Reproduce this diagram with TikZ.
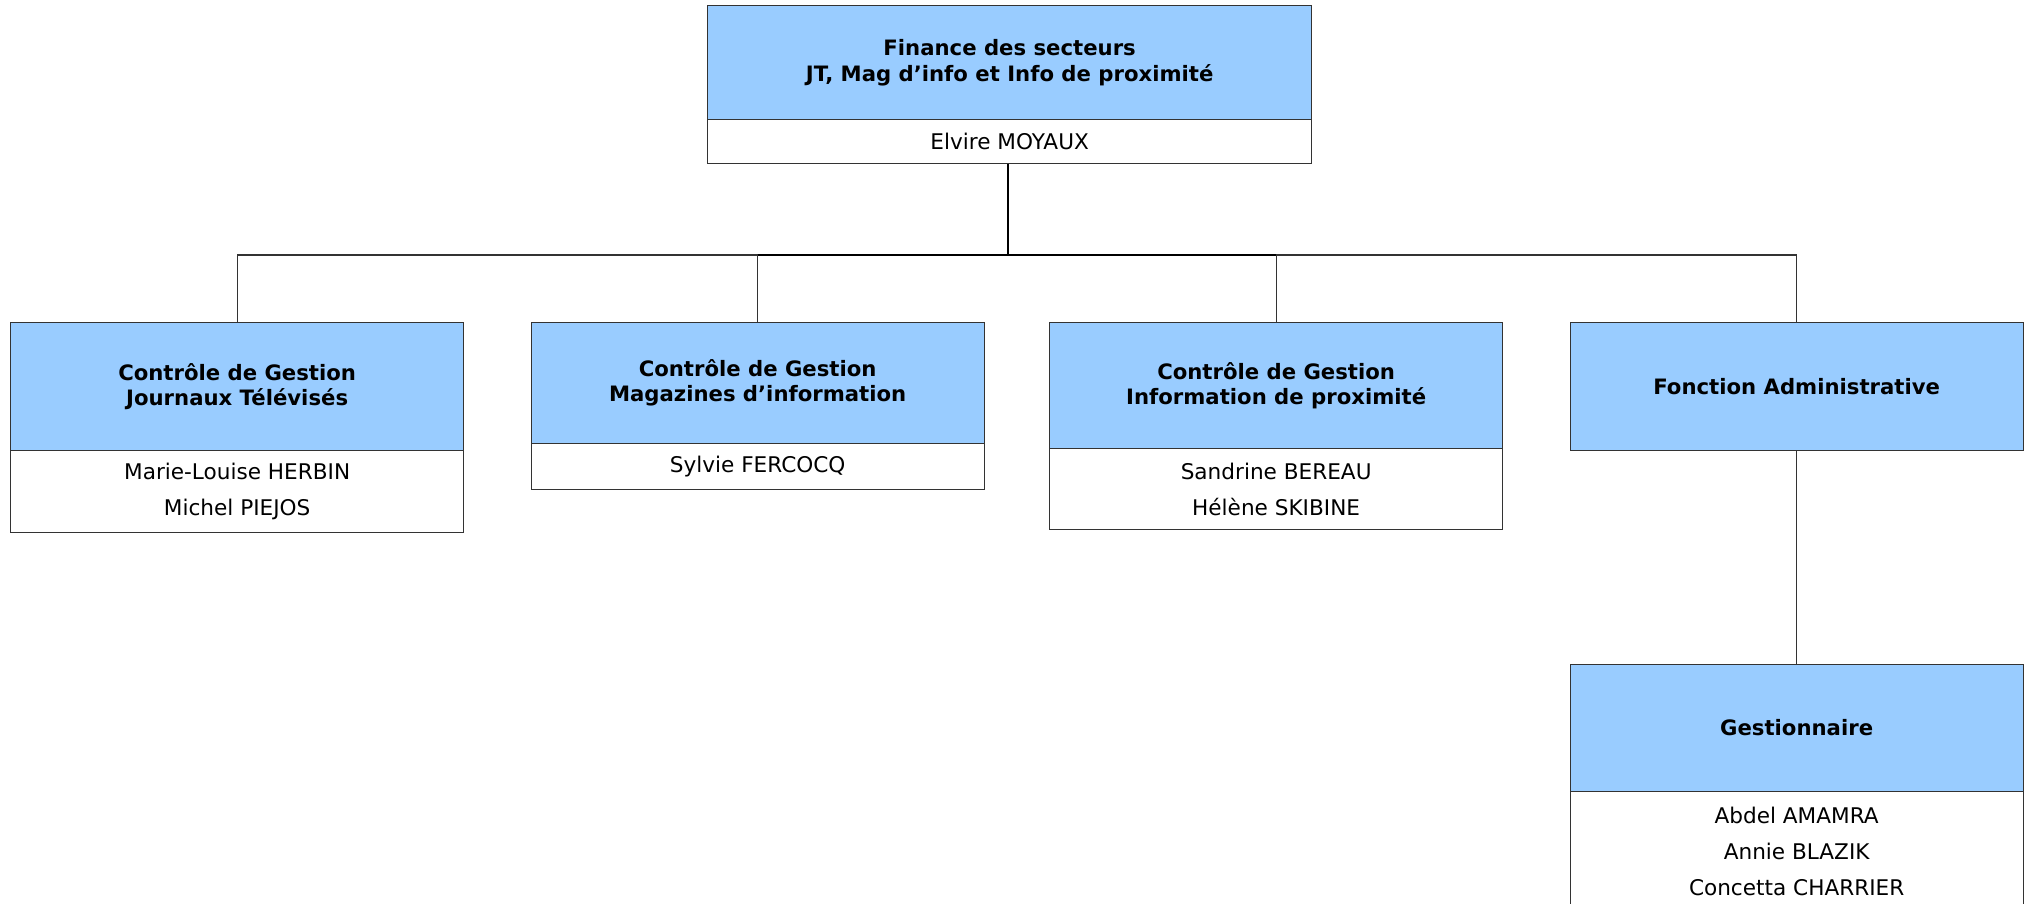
\documentclass[tikz,border=0pt]{standalone}
\usepackage{fontspec}
\setmainfont{DejaVu Sans}
\definecolor{hdr}{HTML}{99CCFF}
\definecolor{edge}{HTML}{333333}
\tikzset{
  hdrbox/.style={draw=edge, fill=hdr, line width=1.3pt, minimum width=453pt, inner sep=0pt, anchor=north west, align=center, font=\bfseries\fontsize{21.2}{25.5}\selectfont},
  namebox/.style={draw=edge, fill=white, line width=1.3pt, minimum width=453pt, inner sep=0pt, anchor=north west, align=center, font=\fontsize{21.6}{36}\selectfont},
  link/.style={draw=edge, line width=1.3pt},
  trunk/.style={draw=black, line width=2.2pt}
}
\begin{document}
\begin{tikzpicture}[x=1pt,y=-1pt]
\useasboundingbox (0,0) rectangle (2029,904);
\clip (0,0) rectangle (2029,904);
% top
\node[hdrbox, minimum width=604pt, minimum height=114pt] (th) at (707,5) {Finance des secteurs\\JT, Mag d’info et Info de proximité};
\node[namebox, minimum width=604pt, minimum height=44pt] (tw) at (707,119) {Elvire MOYAUX};
% children
\node[hdrbox, minimum height=128pt] (c1) at (10,322) {Contrôle de Gestion\\Journaux Télévisés};
\node[namebox, minimum height=82pt] (w1) at (10,450) {Marie-Louise HERBIN\\Michel PIEJOS};
\node[hdrbox, minimum height=120.5pt] (c2) at (530.5,322) {Contrôle de Gestion\\Magazines d’information};
\node[namebox, minimum height=46.5pt] (w2) at (530.5,442.5) {Sylvie FERCOCQ};
\node[hdrbox, minimum height=126pt] (c3) at (1049,322) {Contrôle de Gestion\\Information de proximité};
\node[namebox, minimum height=81pt] (w3) at (1049,448) {Sandrine BEREAU\\Hélène SKIBINE};
\node[hdrbox, minimum height=128pt] (c4) at (1569.5,322) {Fonction Administrative};
% gestionnaire
\node[hdrbox, minimum height=126.6pt] (g) at (1569.5,664) {Gestionnaire};
\node[namebox, minimum height=120pt] (gw) at (1569.5,790.6) {Abdel AMAMRA\\Annie BLAZIK\\Concetta CHARRIER};
% connectors
\coordinate (bus) at (1008,255);
\draw[link] (c1.north) |- (bus) -| (c4.north);
\draw[link] (c2.north) |- (bus);
\draw[link] (c3.north) |- (bus);
\draw[trunk] (c2.north |- bus) -- (c3.north |- bus);
\draw[trunk] (tw.south -| bus) -- (bus);
\draw[link] (c4.south) -- (g.north);
\end{tikzpicture}
\end{document}
